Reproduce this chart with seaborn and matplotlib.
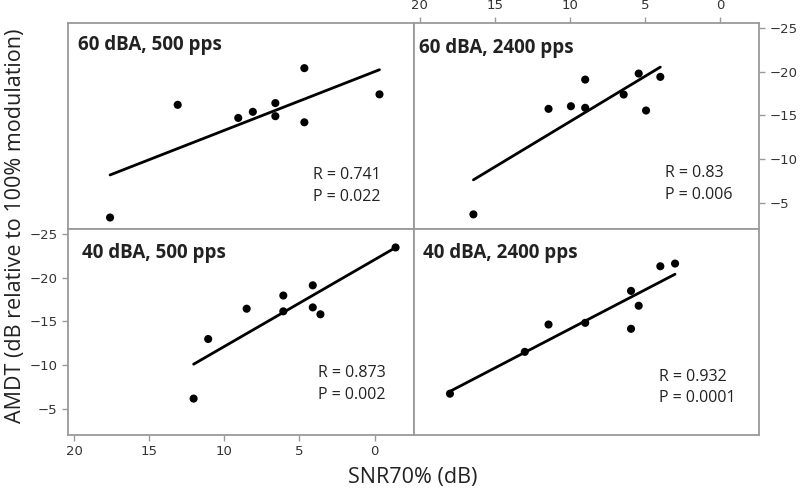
import matplotlib
matplotlib.use("Agg")
import matplotlib.pyplot as plt
import seaborn as sns

# -------------------------------
# Data
# -------------------------------
# 60 dBA, 500 pps
snr_60_500 = [17.6, 13.1, 9.07, 8.1, 6.6, 6.6, 4.67, 4.67, -0.33]
amdt_60_500 = [-3.3, -16.2, -14.7, -15.4, -16.4, -14.9, -20.4, -14.2, -17.4]

# 60 dBA, 2400 pps
snr_60_2400 = [16.42, 11.42, 9.93, 8.98, 8.98, 6.42, 5.42, 4.93, 3.98]
amdt_60_2400 = [-3.66, -15.74, -16.04, -19.09, -15.86, -17.38, -19.78, -15.55, -19.4]

# 40 dBA, 500 pps
snr_40_500 = [12.04, 11.07, 8.51, 6.07, 6.07, 4.11, 4.11, 3.6, -1.4]
amdt_40_500 = [-6.17, -12.99, -16.46, -17.97, -16.16, -19.14, -16.61, -15.82, -23.47]

# 40 dBA, 2400 pps
snr_40_2400 = [17.98, 13.0, 11.42, 8.98, 5.93, 5.93, 5.42, 3.98, 3.0]
amdt_40_2400 = [-6.73, -11.52, -14.65, -14.84, -18.5, -14.16, -16.8, -21.32, -21.63]

panel_titles = ["60 dBA, 500 pps", "60 dBA, 2400 pps", "40 dBA, 500 pps", "40 dBA, 2400 pps"]
r_labels = ["R = 0.741", "R = 0.83", "R = 0.873", "R = 0.932"]
p_labels = ["P = 0.022", "P = 0.006", "P = 0.002", "P = 0.0001"]

x_ticks = [20, 15, 10, 5, 0]
y_ticks = [-25, -20, -15, -10, -5]

# -------------------------------
# Style
# -------------------------------
sns.set_style("white")
# tick labels in DejaVu (wide digits), other text in Open Sans
plt.rcParams['font.family'] = ['DejaVu Sans']
txt_font = ['Open Sans', 'DejaVu Sans']

frame_col = "#9a9a9a"
text_col = "#222222"

fig, axes = plt.subplots(2, 2, figsize=(8, 4.94), dpi=100, sharex=True, sharey=True)
fig.subplots_adjust(left=0.085, right=0.949, top=0.954, bottom=0.1194, wspace=0, hspace=0)

panels = [
    (axes[0, 0], snr_60_500, amdt_60_500),
    (axes[0, 1], snr_60_2400, amdt_60_2400),
    (axes[1, 0], snr_40_500, amdt_40_500),
    (axes[1, 1], snr_40_2400, amdt_40_2400),
]

# text positions in axes fraction: (title x, title y, stats x, R y, P y)
text_pos = [
    (0.029, 0.892, 0.708, 0.262, 0.155),
    (0.017, 0.877, 0.727, 0.270, 0.163),
    (0.040, 0.883, 0.723, 0.300, 0.194),
    (0.026, 0.883, 0.710, 0.283, 0.178),
]

for i, (ax, xs, ys) in enumerate(panels):
    sns.regplot(
        x=xs, y=ys, ax=ax, ci=None,
        scatter_kws=dict(s=34, color="black", edgecolor="none", alpha=1),
        line_kws=dict(color="black", lw=2),
    )
    ax.set_xlim(20.4, -2.6)
    ax.set_ylim(-2, -25.6)
    ax.set_xticks(x_ticks)
    ax.set_yticks(y_ticks)
    ax.set_xlabel("")
    ax.set_ylabel("")
    for sp in ax.spines.values():
        sp.set_color(frame_col)
        sp.set_linewidth(1.3)
    ax.tick_params(which="both", bottom=False, left=False, top=False, right=False,
                   labelbottom=False, labelleft=False, labeltop=False, labelright=False,
                   length=4, width=1, color=frame_col, labelsize=9.5, labelcolor="#333333")

    tx, ty, sx, ry, py = text_pos[i]
    ax.text(tx, ty, panel_titles[i], transform=ax.transAxes, fontsize=13.5, family=txt_font,
            fontweight="bold", color=text_col, va="center", ha="left")
    ax.text(sx, ry, r_labels[i], transform=ax.transAxes, fontsize=11.5, family=txt_font,
            color=text_col, va="center", ha="left")
    ax.text(sx, py, p_labels[i], transform=ax.transAxes, fontsize=11.5, family=txt_font,
            color=text_col, va="center", ha="left")

# bottom-left gets bottom/left ticks, top-right gets top/right ticks
axes[1, 0].tick_params(bottom=True, left=True, labelbottom=True, labelleft=True)
axes[0, 1].tick_params(top=True, right=True, labeltop=True, labelright=True)

fig.text(0.516, 0.034, "SNR70% (dB)", ha="center", va="center", fontsize=15.5,
         family=txt_font, color=text_col)
fig.text(0.019, 0.543, "AMDT (dB relative to 100% modulation)", ha="center", va="center",
         rotation=90, fontsize=15.5, family=txt_font, color=text_col)

plt.savefig("out.png", dpi=100)
plt.close()
